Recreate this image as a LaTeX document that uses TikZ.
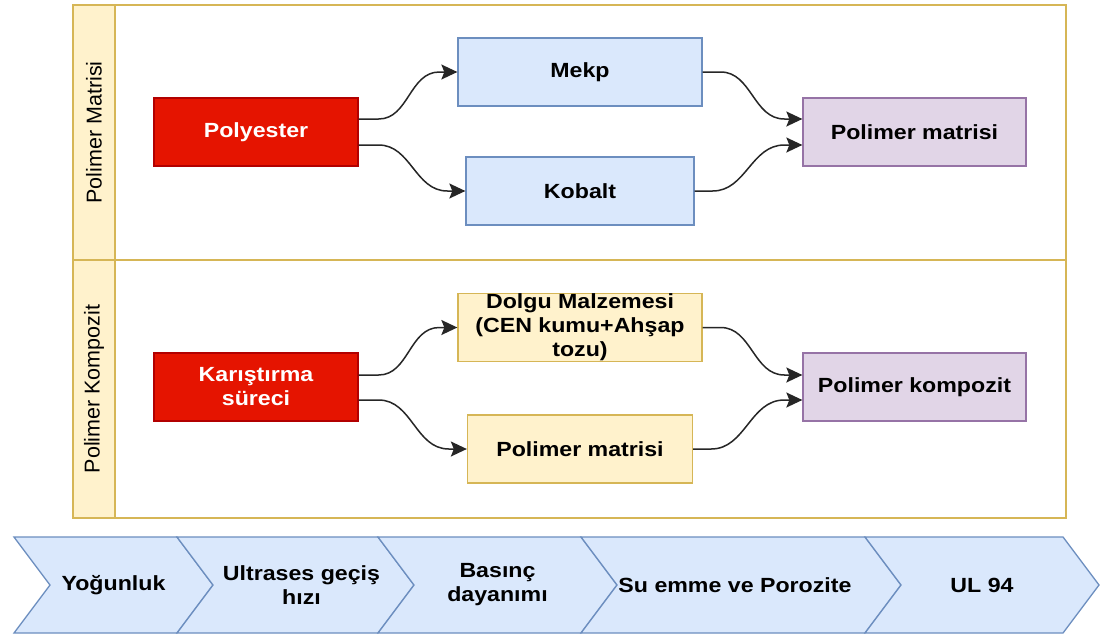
\documentclass[tikz,border=0pt]{standalone}
\usepackage{fontspec}
\setmainfont{Liberation Sans}
\newfontfamily\wideface[FakeStretch=1.13]{Liberation Sans}
\usetikzlibrary{arrows.meta,calc}

\definecolor{redfill}{HTML}{E51400}
\definecolor{redline}{HTML}{B20000}
\definecolor{bluefill}{HTML}{DAE8FC}
\definecolor{blueline}{HTML}{6C8EBF}
\definecolor{yelfill}{HTML}{FFF2CC}
\definecolor{yelline}{HTML}{D6B656}
\definecolor{purfill}{HTML}{E1D5E7}
\definecolor{purline}{HTML}{9673A6}

\begin{document}
\begin{tikzpicture}[
    x=1pt, y=-1pt,
    every node/.style={font=\wideface\bfseries\fontsize{20.5}{24}\selectfont},
    box/.style={
        rectangle,
        draw=#1line,
        fill=#1fill,
        line width=1.3pt,
        align=center,
        inner sep=0pt,
        minimum height=68pt
    },
    lane/.style={rectangle, draw=yelline, fill=white, line width=1.5pt, minimum width=951pt},
    lanehead/.style={
        rectangle, draw=yelline, fill=yelfill, line width=1.5pt,
        minimum height=42pt, rotate=90,
        font=\normalfont\fontsize{21.5}{25}\selectfont
    },
    chevron/.style={draw=blueline, fill=bluefill, line width=1.3pt},
    flow/.style={-{Stealth[length=16pt,width=15pt,inset=3pt]}, draw=black!85, line width=1.5pt}
]
\useasboundingbox (0,0) rectangle (1100,637);

% Pool with two lanes
\node[lane, minimum height=255pt] (lane1) at (590.5,132.5) {};
\node[lane, minimum height=258pt] (lane2) at (590.5,389) {};
\node[lanehead, minimum width=255pt] (hd1) at (94,132.5) {Polimer Matrisi};
\node[lanehead, minimum width=258pt] (hd2) at (94,389) {Polimer Kompozit};

% Lane 1: polimer matrisi
\node[box=red, text=white, minimum width=204pt] (poly)   at (256,132)   {Polyester};
\node[box=blue, minimum width=244pt]            (mekp)   at (580,72)    {Mekp};
\node[box=blue, minimum width=228pt]            (kobalt) at (580,191)   {Kobalt};
\node[box=pur, minimum width=223pt]             (pm1)    at (914.5,132) {Polimer matrisi};

% Lane 2: polimer kompozit
\node[box=red, text=white, minimum width=204pt] (kar)   at (256,387)   {Karıştırma\\süreci};
\node[box=yel, minimum width=244pt]             (dolgu) at (580,327.5) {Dolgu Malzemesi\\(CEN kumu+Ahşap\\tozu)};
\node[box=yel, minimum width=225pt]             (pm2)   at (580,449)   {Polimer matrisi};
\node[box=pur, minimum width=223pt]             (komp)  at (914.5,387) {Polimer kompozit};

% Connectors
\draw[flow] ($(poly.east)+(0,-13)$) -- ++(20,0) to[out=0,in=180] ($(mekp.west)+(-18,0)$) -- (mekp.west);
\draw[flow] ($(poly.east)+(0,13)$) -- ++(20,0) to[out=0,in=180] ($(kobalt.west)+(-18,0)$) -- (kobalt.west);
\draw[flow] (mekp.east) -- ++(18,0) to[out=0,in=180] ($(pm1.west)+(-18,-13)$) -- ($(pm1.west)+(0,-13)$);
\draw[flow] (kobalt.east) -- ++(18,0) to[out=0,in=180] ($(pm1.west)+(-18,13)$) -- ($(pm1.west)+(0,13)$);

\draw[flow] ($(kar.east)+(0,-12)$) -- ++(20,0) to[out=0,in=180] ($(dolgu.west)+(-18,0)$) -- (dolgu.west);
\draw[flow] ($(kar.east)+(0,13)$) -- ++(20,0) to[out=0,in=180] ($(pm2.west)+(-18,0)$) -- (pm2.west);
\draw[flow] (dolgu.east) -- ++(18,0) to[out=0,in=180] ($(komp.west)+(-18,-12)$) -- ($(komp.west)+(0,-12)$);
\draw[flow] (pm2.east) -- ++(18,0) to[out=0,in=180] ($(komp.west)+(-18,13)$) -- ($(komp.west)+(0,13)$);

% Test steps
\foreach \xl/\xr/\dx/\txt [count=\i] in {14/177/0/Yoğunluk, 177/378/6/{Ultrases geçiş\\hızı}, 378/581/0/{Basınç\\dayanımı}, 581/865/-6/Su emme ve Porozite, 865/1063/0/UL 94} {
    \draw[chevron] (\xl,537) -- (\xr,537) -- (\xr+36,585) -- (\xr,633) -- (\xl,633) -- (\xl+36,585) -- cycle;
    \node[align=center] (m\i) at ({(\xl+\xr+36)/2+\dx},585) {\txt};
}

\end{tikzpicture}
\end{document}
